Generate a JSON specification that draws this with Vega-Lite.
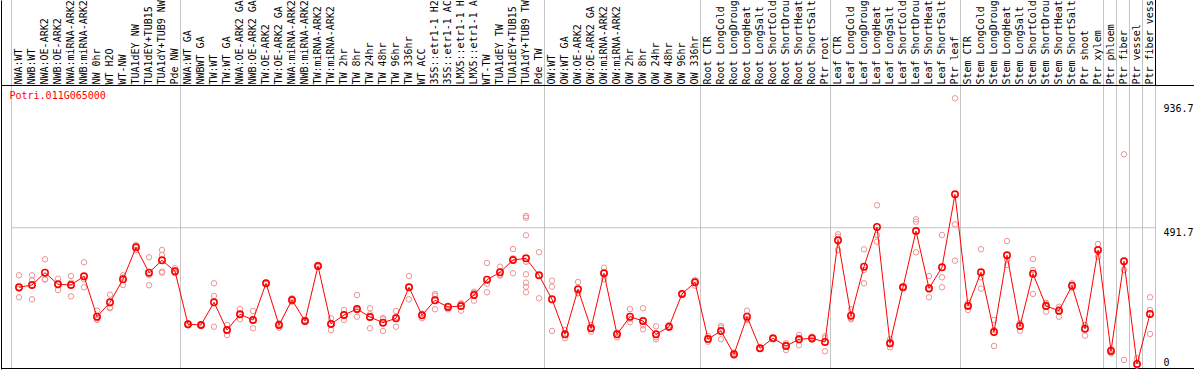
{
  "$schema": "https://vega.github.io/schema/vega-lite/v6.json",
  "autosize": "none",
  "width": 1193,
  "height": 369,
  "padding": {"left": 1, "top": 0, "right": 0, "bottom": 1},
  "background": "white",
  "config": {
    "view": {"stroke": null},
    "axis": {"labelFont": "DejaVu Sans Mono", "labelFontSize": 10, "labelColor": "black"}
  },
  "data": {"values": [
    {"sample": "NWA:WT", "mean": 279.1, "reps": [321.9, 243.4, 273.0]},
    {"sample": "NWB:WT", "mean": 287.3, "reps": [321.9, 236.2, 303.7]},
    {"sample": "NWA:OE-ARK2", "mean": 331.2, "reps": [379.0, 307.6, 307.0]},
    {"sample": "NWB:OE-ARK2", "mean": 289.8, "reps": [309.8, 269.4, 290.1]},
    {"sample": "NWA:miRNA-ARK2", "mean": 287.3, "reps": [319.4, 246.9, 295.5]},
    {"sample": "NWB:miRNA-ARK2", "mean": 318.3, "reps": [368.3, 279.1, 307.6]},
    {"sample": "NW 0hr", "mean": 174.1, "reps": [195.6, 162.4, 168.4]},
    {"sample": "WT H2O", "mean": 225.5, "reps": [252.7, 207.7, 204.1]},
    {"sample": "WT-NW", "mean": 307.6, "reps": [321.9, 287.3, 313.7]},
    {"sample": "TUA1dEY NW", "mean": 421.8, "reps": [430.0, 424.1, 411.7]},
    {"sample": "TUA1dEY+TUB15 NW", "mean": 331.2, "reps": [386.1, 286.2, 323.0]},
    {"sample": "TUA1dY+TUB9 NW", "mean": 375.4, "reps": [412.2, 394.3, 334.7, 331.2]},
    {"sample": "Pde NW", "mean": 336.2, "reps": [346.9, 331.2, 329.0]},
    {"sample": "NWA:WT GA", "mean": 147.0, "reps": [150.6, 143.5, 147.0]},
    {"sample": "NWBWT GA", "mean": 144.5, "reps": [147.0, 142.0, 144.5]},
    {"sample": "TW:WT", "mean": 225.5, "reps": [293.3, 248.0, 138.5]},
    {"sample": "TW:WT GA", "mean": 126.7, "reps": [144.5, 108.8, 126.7]},
    {"sample": "NWA:OE-ARK2 GA", "mean": 182.7, "reps": [201.6, 165.9, 180.2]},
    {"sample": "NWB:OE-ARK2 GA", "mean": 162.4, "reps": [194.5, 132.8, 159.9]},
    {"sample": "TW:OE-ARK2", "mean": 293.3, "reps": [295.5, 293.3, 290.8]},
    {"sample": "TW:OE-ARK2 GA", "mean": 144.5, "reps": [150.6, 134.9, 148.1]},
    {"sample": "NWA:miRNA-ARK2 GA", "mean": 233.7, "reps": [239.8, 233.7, 227.7]},
    {"sample": "NWB:miRNA-ARK2 GA", "mean": 158.8, "reps": [162.4, 158.8, 155.2]},
    {"sample": "TW:miRNA-ARK2", "mean": 355.1, "reps": [358.6, 355.1, 351.5]},
    {"sample": "TW:miRNA-ARK2 GA", "mean": 148.1, "reps": [168.4, 126.7, 149.2]},
    {"sample": "TW 2hr", "mean": 180.2, "reps": [198.1, 162.4, 180.2]},
    {"sample": "TW 8hr", "mean": 201.6, "reps": [251.6, 174.1, 198.1]},
    {"sample": "TW 24hr", "mean": 173.1, "reps": [204.1, 132.8, 182.7]},
    {"sample": "TW 48hr", "mean": 152.7, "reps": [164.9, 123.1, 169.5]},
    {"sample": "TW 96hr", "mean": 168.4, "reps": [194.5, 138.5, 172.0]},
    {"sample": "TW 336hr", "mean": 279.1, "reps": [319.4, 236.2, 281.2]},
    {"sample": "WT ACC", "mean": 179.1, "reps": [183.8, 168.4, 184.9]},
    {"sample": "35S::etr1-1 H2O", "mean": 232.7, "reps": [255.2, 200.6, 249.1]},
    {"sample": "35S::etr1-1 ACC", "mean": 208.8, "reps": [212.3, 200.6, 213.4]},
    {"sample": "LMX5::etr1-1 H2O", "mean": 212.3, "reps": [222.0, 195.6, 219.5]},
    {"sample": "LMX5::etr1-1 ACC", "mean": 251.6, "reps": [263.4, 231.2, 258.7]},
    {"sample": "WT-TW", "mean": 306.2, "reps": [365.8, 261.2, 291.9]},
    {"sample": "TUA1dEY TW", "mean": 332.6, "reps": [352.6, 320.5, 324.0]},
    {"sample": "TUA1dEY+TUB15 TW", "mean": 376.5, "reps": [415.7, 329.0, 382.6]},
    {"sample": "TUA1dY+TUB9 TW", "mean": 382.6, "reps": [533.5, 527.4, 464.6, 370.4, 325.5, 295.5, 281.2, 261.2]},
    {"sample": "Pde TW", "mean": 321.9, "reps": [404.0, 239.8, 321.9]},
    {"sample": "OW:WT", "mean": 236.2, "reps": [302.6, 281.2, 123.1]},
    {"sample": "OW:WT GA", "mean": 111.3, "reps": [126.7, 97.1, 109.9]},
    {"sample": "OW:OE-ARK2", "mean": 271.9, "reps": [298.0, 257.6, 259.8]},
    {"sample": "OW:OE-ARK2 GA", "mean": 132.8, "reps": [144.5, 120.6, 132.8]},
    {"sample": "OW:miRNA-ARK2", "mean": 329.0, "reps": [349.0, 307.6, 331.2]},
    {"sample": "OW:miRNA-ARK2 GA", "mean": 111.3, "reps": [117.0, 100.6, 116.0]},
    {"sample": "OW 2hr", "mean": 174.1, "reps": [201.6, 154.2, 167.0]},
    {"sample": "OW 8hr", "mean": 158.8, "reps": [204.1, 129.2, 143.5]},
    {"sample": "OW 24hr", "mean": 111.3, "reps": [139.9, 93.5, 100.6]},
    {"sample": "OW 48hr", "mean": 138.5, "reps": [143.5, 134.9, 138.5]},
    {"sample": "OW 96hr", "mean": 255.2, "reps": [257.6, 252.7, 255.2]},
    {"sample": "OW 336hr", "mean": 296.9, "reps": [305.1, 284.8, 299.0]},
    {"sample": "Root CTR", "mean": 94.6, "reps": [105.3, 84.9, 93.5]},
    {"sample": "Root LongCold", "mean": 123.1, "reps": [141.0, 93.5, 134.9]},
    {"sample": "Root LongDrought", "mean": 40.0, "reps": [45.7, 35.0, 40.0]},
    {"sample": "Root LongHeat", "mean": 174.1, "reps": [195.6, 162.4, 165.9]},
    {"sample": "Root LongSalt", "mean": 61.4, "reps": [63.5, 61.4, 58.9]},
    {"sample": "Root ShortCold", "mean": 97.1, "reps": [98.1, 97.1, 95.6]},
    {"sample": "Root ShortDrought", "mean": 69.6, "reps": [79.2, 55.3, 74.2]},
    {"sample": "Root ShortHeat", "mean": 93.5, "reps": [99.2, 72.1, 108.8]},
    {"sample": "Root ShortSalt", "mean": 97.1, "reps": [102.8, 91.0, 97.1]},
    {"sample": "Ptr root", "mean": 83.9, "reps": [97.1, 50.7, 104.2]},
    {"sample": "Leaf CTR", "mean": 446.8, "reps": [468.2, 412.2, 459.6]},
    {"sample": "Leaf LongCold", "mean": 177.7, "reps": [200.6, 164.9, 168.4]},
    {"sample": "Leaf LongDrought", "mean": 352.6, "reps": [414.7, 293.3, 340.8]},
    {"sample": "Leaf LongHeat", "mean": 494.3, "reps": [571.7, 441.8, 465.7]},
    {"sample": "Leaf LongSalt", "mean": 79.2, "reps": [93.5, 64.9, 79.2]},
    {"sample": "Leaf ShortCold", "mean": 279.1, "reps": [279.1, 281.2, 276.6]},
    {"sample": "Leaf ShortDrought", "mean": 480.0, "reps": [521.7, 513.2, 404.0]},
    {"sample": "Leaf ShortHeat", "mean": 275.5, "reps": [319.4, 269.4, 243.4]},
    {"sample": "Leaf ShortSalt", "mean": 350.4, "reps": [465.7, 314.7, 279.1]},
    {"sample": "Ptr leaf", "mean": 610.9, "reps": [953.5, 503.9, 374.0]},
    {"sample": "Stem CTR", "mean": 212.3, "reps": [198.1, 223.0, 215.9]},
    {"sample": "Stem LongCold", "mean": 332.6, "reps": [414.7, 314.7, 274.1]},
    {"sample": "Stem LongDrought", "mean": 119.5, "reps": [162.4, 69.6, 126.7]},
    {"sample": "Stem LongHeat", "mean": 393.3, "reps": [444.3, 376.5, 358.6]},
    {"sample": "Stem LongSalt", "mean": 141.0, "reps": [150.6, 124.2, 148.1]},
    {"sample": "Stem ShortCold", "mean": 327.6, "reps": [380.1, 340.8, 255.2]},
    {"sample": "Stem ShortDrought", "mean": 212.3, "reps": [224.1, 192.0, 220.5]},
    {"sample": "Stem ShortHeat", "mean": 195.6, "reps": [209.8, 174.1, 202.7]},
    {"sample": "Stem ShortSalt", "mean": 284.8, "reps": [293.3, 283.7, 277.6]},
    {"sample": "Ptr shoot", "mean": 131.3, "reps": [144.5, 106.3, 143.5]},
    {"sample": "Ptr xylem", "mean": 412.2, "reps": [433.6, 388.3, 414.7]},
    {"sample": "Ptr phloem", "mean": 51.7, "reps": [57.8, 43.5, 54.2]},
    {"sample": "Ptr fiber", "mean": 371.8, "reps": [753.7, 340.8, 19.6]},
    {"sample": "Ptr vessel", "mean": 5.4, "reps": [25.7, 0.5, 0.0]},
    {"sample": "Ptr fiber vessel", "mean": 183.8, "reps": [243.4, 198.1, 112.4]}
  ]},
  "layer": [
    {
      "data": {"values": [{}]},
      "mark": {"type": "rule", "color": "#c4c4c4", "strokeWidth": 1},
      "encoding": {
        "x": {"datum": "NWA:WT", "type": "nominal", "bandPosition": 0, "axis": null},
        "x2": {"datum": "Ptr fiber vessel", "bandPosition": 1},
        "y": {"datum": 491.7, "type": "quantitative", "axis": null}
      }
    },
    {
      "data": {"values": [
        {"s": "NWA:WT"}, {"s": "NWA:WT GA"}, {"s": "OW:WT"}, {"s": "Root CTR"}, {"s": "Leaf CTR"},
        {"s": "Stem CTR"}, {"s": "Ptr phloem"}, {"s": "Ptr fiber"}, {"s": "Ptr vessel"}, {"s": "Ptr fiber vessel"}
      ]},
      "mark": {"type": "rule", "color": "#c4c4c4", "strokeWidth": 1},
      "encoding": {
        "x": {"field": "s", "type": "nominal", "bandPosition": 0, "axis": null}
      }
    },
    {
      "data": {"values": [{}]},
      "mark": {"type": "rule", "color": "#c4c4c4", "strokeWidth": 1},
      "encoding": {
        "x": {"datum": "Ptr fiber vessel", "type": "nominal", "bandPosition": 1, "axis": null}
      }
    },
    {
      "data": {"values": [{}]},
      "mark": {"type": "rule", "color": "black", "strokeWidth": 1},
      "encoding": {
        "x": {"datum": "Ptr fiber vessel", "type": "nominal", "bandPosition": 1, "axis": null},
        "y": {"datum": 999.2, "type": "quantitative", "axis": null},
        "y2": {"datum": 1304.3}
      }
    },
    {
      "data": {"values": [{}]},
      "mark": {"type": "rule", "color": "black", "strokeWidth": 1},
      "encoding": {
        "y": {"datum": 999.2, "type": "quantitative", "axis": null}
      }
    },
    {
      "data": {"values": [{}]},
      "mark": {"type": "rule", "color": "black", "strokeWidth": 1},
      "encoding": {
        "y": {"datum": -10.72, "type": "quantitative", "axis": null}
      }
    },
    {
      "transform": [{"flatten": ["reps"], "as": ["rep"]}],
      "mark": {"type": "point", "shape": "circle", "filled": false, "stroke": "#f09494", "strokeWidth": 1, "size": 30, "opacity": 1},
      "encoding": {
        "x": {"field": "sample", "type": "nominal", "bandPosition": 0.577, "axis": null},
        "y": {"field": "rep", "type": "quantitative",
              "scale": {"domain": [-12.5, 1304.3], "nice": false, "zero": false},
              "axis": {"orient": "left", "labels": false, "ticks": false, "grid": false, "domain": true, "domainColor": "black", "domainWidth": 1, "title": null}}
      }
    },
    {
      "mark": {"type": "line", "color": "#ff0000", "strokeWidth": 1},
      "encoding": {
        "x": {"field": "sample", "type": "nominal", "bandPosition": 0.577,
              "scale": {"type": "band", "range": [10.5, 1154.5], "paddingInner": 0, "paddingOuter": 0,
                        "domain": ["NWA:WT","NWB:WT","NWA:OE-ARK2","NWB:OE-ARK2","NWA:miRNA-ARK2","NWB:miRNA-ARK2","NW 0hr","WT H2O","WT-NW","TUA1dEY NW","TUA1dEY+TUB15 NW","TUA1dY+TUB9 NW","Pde NW","NWA:WT GA","NWBWT GA","TW:WT","TW:WT GA","NWA:OE-ARK2 GA","NWB:OE-ARK2 GA","TW:OE-ARK2","TW:OE-ARK2 GA","NWA:miRNA-ARK2 GA","NWB:miRNA-ARK2 GA","TW:miRNA-ARK2","TW:miRNA-ARK2 GA","TW 2hr","TW 8hr","TW 24hr","TW 48hr","TW 96hr","TW 336hr","WT ACC","35S::etr1-1 H2O","35S::etr1-1 ACC","LMX5::etr1-1 H2O","LMX5::etr1-1 ACC","WT-TW","TUA1dEY TW","TUA1dEY+TUB15 TW","TUA1dY+TUB9 TW","Pde TW","OW:WT","OW:WT GA","OW:OE-ARK2","OW:OE-ARK2 GA","OW:miRNA-ARK2","OW:miRNA-ARK2 GA","OW 2hr","OW 8hr","OW 24hr","OW 48hr","OW 96hr","OW 336hr","Root CTR","Root LongCold","Root LongDrought","Root LongHeat","Root LongSalt","Root ShortCold","Root ShortDrought","Root ShortHeat","Root ShortSalt","Ptr root","Leaf CTR","Leaf LongCold","Leaf LongDrought","Leaf LongHeat","Leaf LongSalt","Leaf ShortCold","Leaf ShortDrought","Leaf ShortHeat","Leaf ShortSalt","Ptr leaf","Stem CTR","Stem LongCold","Stem LongDrought","Stem LongHeat","Stem LongSalt","Stem ShortCold","Stem ShortDrought","Stem ShortHeat","Stem ShortSalt","Ptr shoot","Ptr xylem","Ptr phloem","Ptr fiber","Ptr vessel","Ptr fiber vessel"]},
              "axis": {"orient": "top", "offset": -86, "labelAngle": 270, "labelAlign": "left", "labelBaseline": "middle",
                       "labelPadding": 2, "labelOffset": 1, "ticks": false, "domain": false, "grid": false,
                       "labelOverlap": false, "labelLimit": 400, "title": null, "zindex": 1}},
        "y": {"field": "mean", "type": "quantitative",
              "scale": {"domain": [-12.5, 1304.3], "nice": false, "zero": false},
              "axis": {"orient": "right", "offset": -39, "values": [0, 491.7, 936.7], "format": ".1~f", "labelPadding": 8,
                       "labelAlign": "left",
                       "labelBaseline": {"condition": {"test": "datum.value === 0", "value": "alphabetic"}, "value": "top"},
                       "ticks": false, "domain": false, "grid": false,
                       "labelOverlap": false, "labelFlush": false, "labelBound": false, "title": null}}
      }
    },
    {
      "mark": {"type": "point", "shape": "circle", "filled": false, "stroke": "#ff0000", "strokeWidth": 1.6, "size": 40, "opacity": 1},
      "encoding": {
        "x": {"field": "sample", "type": "nominal", "bandPosition": 0.577, "axis": null},
        "y": {"field": "mean", "type": "quantitative", "axis": null}
      }
    },
    {
      "data": {"values": [{"gene": "Potri.011G065000"}]},
      "mark": {"type": "text", "color": "#ff0000", "font": "DejaVu Sans Mono", "fontSize": 10, "align": "left", "baseline": "middle", "dx": -2},
      "encoding": {
        "text": {"field": "gene", "type": "nominal"},
        "x": {"datum": "NWA:WT", "type": "nominal", "bandPosition": 0, "axis": null},
        "y": {"datum": 962, "type": "quantitative", "axis": null}
      }
    }
  ],
  "resolve": {"axis": {"x": "independent", "y": "independent"}}
}
